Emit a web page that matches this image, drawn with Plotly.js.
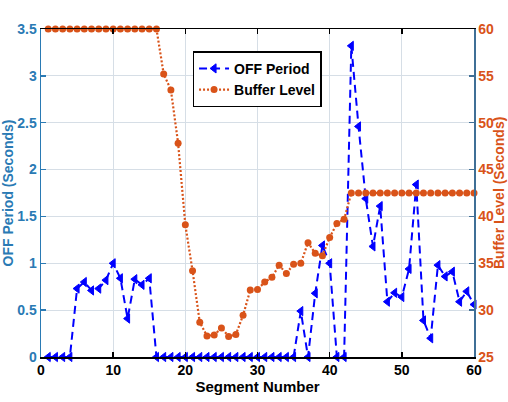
<!DOCTYPE html>
<html>
<head>
<meta charset="utf-8">
<script src="https://cdn.plot.ly/plotly-3.0.1.min.js"></script>
<style>
  html, body { margin: 0; padding: 0; background: #ffffff; }
  #chart { width: 508px; height: 402px; }
</style>
</head>
<body>
<div id="chart"></div>
<script>
// Segment numbers
const segments = [1,2,3,4,5,6,7,8,9,10,11,12,13,14,15,16,17,18,19,20,
                  21,22,23,24,25,26,27,28,29,30,31,32,33,34,35,36,37,38,39,40,
                  41,42,43,44,45,46,47,48,49,50,51,52,53,54,55,56,57,58,59,60];

// OFF Period (Seconds), left axis
const offPeriod = [0,0,0,0,0.73,0.80,0.71,0.73,0.82,1.00,
                   0.84,0.41,0.83,0.77,0.84,0,0,0,0,0,
                   0,0,0,0,0,0,0,0,0,0,
                   0,0,0,0,0,0.49,0,0.68,1.19,1.00,
                   0,0,3.32,2.46,1.69,1.18,1.61,0.59,0.685,0.64,
                   0.94,1.84,0.39,0.20,0.98,0.86,0.91,0.59,0.70,0.56];

// Buffer Level (Seconds), right axis
const bufferLevel = [60,60,60,60,60,60,60,60,60,60,
                     60,60,60,60,60,60,55.2,53.5,47.8,39.1,
                     34.2,28.7,27.25,27.35,28.1,27.2,27.4,29.45,32.15,32.2,
                     33.0,33.5,34.8,33.9,34.9,35.0,37.2,36.06,35.8,37.76,
                     39.25,39.7,42.5,42.5,42.5,42.5,42.5,42.5,42.5,42.5,
                     42.5,42.5,42.5,42.5,42.5,42.5,42.5,42.5,42.5,42.5];

const xTicks = [0,10,20,30,40,50,60];
const leftTicks = [0,0.5,1,1.5,2,2.5,3,3.5];
const leftTickText = ['0','0.5','1','1.5','2','2.5','3','3.5'];
const rightTicks = [25,30,35,40,45,50,55,60];

const FONT = 'Arial, "Liberation Sans", Helvetica, sans-serif';
const BLUE_AX = '#2a7ab4';
const ORANGE = '#D95319';
const GRID = '#d6dee6';

const traces = [
  {
    x: segments, y: offPeriod, name: 'OFF Period', type: 'scatter', mode: 'lines+markers',
    yaxis: 'y', cliponaxis: false,
    line: { color: '#0000ff', width: 2, dash: '8px,5px' },
    marker: { symbol: 'triangle-left', size: 8, color: '#0000ff', line: { color: '#0000ff', width: 1 } }
  },
  {
    x: segments, y: bufferLevel, name: 'Buffer Level', type: 'scatter', mode: 'lines+markers',
    yaxis: 'y2', cliponaxis: false,
    line: { color: ORANGE, width: 2.2, dash: '2px,2px' },
    marker: { symbol: 'circle', size: 7, color: ORANGE }
  }
];

const layout = {
  width: 508, height: 402,
  margin: { l: 41, r: 34, t: 29, b: 45, pad: 0 },
  paper_bgcolor: '#ffffff', plot_bgcolor: '#ffffff',
  font: { family: FONT, size: 14, color: '#000000', weight: 'bold' },
  showlegend: true,
  legend: {
    x: 0.35, y: 0.932, xanchor: 'left', yanchor: 'top',
    bgcolor: '#ffffff', bordercolor: '#000000', borderwidth: 1.5,
    font: { family: FONT, size: 14, color: '#000000', weight: 'bold' },
    tracegroupgap: 0
  },
  xaxis: {
    range: [0, 60], tickvals: xTicks, ticktext: xTicks.map(String),
    showgrid: true, gridcolor: GRID, gridwidth: 1, zeroline: false,
    showline: true, linecolor: '#000000', linewidth: 1.5, mirror: 'ticks',
    ticks: 'inside', ticklen: 5, tickwidth: 1.5, tickcolor: '#000000',
    tickfont: { family: FONT, size: 14, color: '#000000', weight: 'bold' },
    title: { text: 'Segment Number', standoff: 4,
             font: { family: FONT, size: 15, color: '#000000', weight: 'bold' } },
    automargin: false
  },
  yaxis: {
    range: [0, 3.5], tickvals: leftTicks, ticktext: leftTickText,
    showgrid: true, gridcolor: GRID, gridwidth: 1, zeroline: false,
    showline: true, linecolor: BLUE_AX, linewidth: 1.5,
    ticks: 'inside', ticklen: 5, tickwidth: 1.5, tickcolor: BLUE_AX,
    tickfont: { family: FONT, size: 14, color: BLUE_AX, weight: 'bold' },
    title: { text: 'OFF Period (Seconds)', standoff: 6,
             font: { family: FONT, size: 14, color: BLUE_AX, weight: 'bold' } },
    automargin: false
  },
  yaxis2: {
    range: [25, 60], tickvals: rightTicks, ticktext: rightTicks.map(String),
    overlaying: 'y', side: 'right',
    showgrid: false, zeroline: false,
    showline: true, linecolor: '#3f6f96', linewidth: 1.5,
    ticks: 'inside', ticklen: 5, tickwidth: 1.5, tickcolor: '#3f6f96',
    tickfont: { family: FONT, size: 14, color: ORANGE, weight: 'bold' },
    automargin: false
  },
  annotations: [{
    text: 'Buffer Level (Seconds)', xref: 'paper', yref: 'paper',
    x: 1.058, y: 0.5, xanchor: 'center', yanchor: 'middle',
    textangle: -90, showarrow: false,
    font: { family: FONT, size: 14, color: ORANGE, weight: 'bold' }
  }]
};

Plotly.newPlot('chart', traces, layout, { displayModeBar: false, staticPlot: true });
</script>
</body>
</html>
